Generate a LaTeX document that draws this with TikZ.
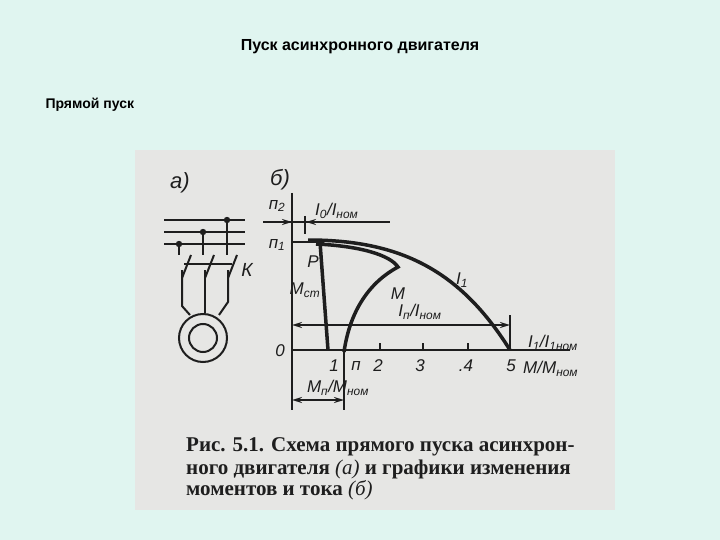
\documentclass[tikz,border=0pt]{standalone}
\usepackage{fontspec}
\setmainfont{Liberation Sans}
\newfontfamily\capfont{Liberation Serif}
\usetikzlibrary{arrows.meta}
\definecolor{bg}{HTML}{E0F5F0}
\definecolor{scan}{HTML}{E6E6E4}
\definecolor{ink}{HTML}{1E1E1E}
\tikzset{
  lbl/.style={font=\itshape\fontsize{17}{17}\selectfont, text=ink, inner sep=0pt},
  wire/.style={draw=ink, line width=2pt},
  heavy/.style={draw=ink, line width=3.5pt},
  dimarr/.style={draw=ink, line width=1.8pt, {Stealth[length=10pt,width=6pt]}-{Stealth[length=10pt,width=6pt]}},
  captext/.style={font=\capfont\bfseries\fontsize{21}{21}\selectfont, text=ink, inner sep=0pt, anchor=west}
}
\begin{document}
\begin{tikzpicture}[x=1pt,y=-1pt]
\fill[bg] (0,0) rectangle (720,540);
\useasboundingbox (0,0) rectangle (720,540);
\node[font=\bfseries\fontsize{16}{16}\selectfont] (title) at (360,47) {Пуск асинхронного двигателя};
\node[font=\bfseries\fontsize{14}{14}\selectfont, anchor=west] (sub) at (42,105) {Прямой пуск};
\fill[scan] (135,150) rectangle (615,510);
% scheme a
\node[lbl, font=\itshape\fontsize{22}{22}\selectfont] (la) at (180,183) {а)};
\coordinate (l1a) at (164,220); \coordinate (l1b) at (245,220);
\coordinate (l2a) at (164,232); \coordinate (l2b) at (245,232);
\coordinate (l3a) at (164,244); \coordinate (l3b) at (245,244);
\draw[wire] (l1a) -- (l1b); \draw[wire] (l2a) -- (l2b); \draw[wire] (l3a) -- (l3b);
\foreach \x/\y in {227/220,203/232,179/244}{
  \fill[ink] (\x,\y) circle (3.2);
  \draw[wire] (\x,\y) -- (\x,255);
}
\foreach \x in {182,205,228}{
  \draw[wire] (\x+9,255) -- (\x,278);
}
\draw[ink, line width=1.2pt] (184,264) -- (232,264);
\node[lbl, font=\itshape\fontsize{19}{19}\selectfont] (K) at (247,270) {К};
\draw[wire] (182,270) -- (182,306) -- (190,315);
\draw[wire] (205,270) -- (205,313);
\draw[wire] (228,270) -- (228,302) -- (219,315);
\draw[wire] (203,338) circle (24);
\draw[wire] (203,338) circle (14);
% graph b
\node[lbl, font=\itshape\fontsize{22}{22}\selectfont] (lb) at (280,180) {б)};
\coordinate (O) at (292,350);
\draw[wire] (292,193) -- (292,410);
\draw[wire] (O) -- (570,350);
\foreach \x in {380,423,468}{\draw[wire] (\x,350) -- (\x,343);}
\draw[wire] (510,315) -- (510,350);
\draw[wire] (344,350) -- (344,410);
% n2 arrows
\draw[wire] (263,222) -- (390,222);
\draw[ink, line width=1.8pt, -{Stealth[length=10pt,width=6pt]}] (263,222) -- (292,222);
\draw[ink, line width=1.8pt, -{Stealth[length=10pt,width=6pt]}] (330,222) -- (306,222);
\draw[ink, line width=1.2pt] (305,216) -- (305,234);
% n1
\draw[wire] (292,242) -- (320,242);
% I1 curve
\draw[heavy] (308,240) .. controls (400,240) and (460,270) .. (510,350);
% M curve
\draw[heavy] (316,244) .. controls (360,246) and (390,255) .. (398,267)
  .. controls (370,282) and (350,310) .. (344,352);
% Mst
\draw[heavy] (320,242) -- (328,350);
\fill[ink] (321,243) circle (3.5);
% dims
\draw[dimarr] (292,325) -- (510,325);
\draw[dimarr] (292,400) -- (344,400);
% labels
\node[lbl] (n2) at (277,206) {п\textsubscript{2}};
\node[lbl] (n1) at (277,245) {п\textsubscript{1}};
\node[lbl, anchor=west] (I0) at (315,211) {I\textsubscript{0}/I\textsubscript{ном}};
\node[lbl] (P) at (313,262) {Р};
\node[lbl] (Mst) at (305,290) {М\textsubscript{ст}};
\node[lbl] (M) at (398,294) {М};
\node[lbl] (I1) at (462,280) {I\textsubscript{1}};
\node[lbl] (Ip) at (420,312) {I\textsubscript{п}/I\textsubscript{ном}};
\node[lbl] (I1n) at (553,343) {I\textsubscript{1}/I\textsubscript{1ном}};
\node[lbl] (zero) at (280,351) {0};
\node[lbl] (t1) at (334,366) {1};
\node[lbl] (tp) at (356,366) {п};
\node[lbl] (t2) at (378,366) {2};
\node[lbl] (t3) at (420,366) {3};
\node[lbl] (t4) at (466,366) {.4};
\node[lbl] (t5) at (511,366) {5};
\node[lbl, anchor=west] (MM) at (523,369) {М/М\textsubscript{ном}};
\node[lbl] (Mp) at (338,388) {М\textsubscript{п}/М\textsubscript{ном}};
% caption
\node[captext] (c1) at (186,447) {Рис. 5.1. Схема прямого пуска асинхрон-};
\node[captext] (c2) at (186,469) {ного двигателя \textmd{\itshape (а)} и графики изменения};
\node[captext] (c3) at (186,490) {моментов и тока \textmd{\itshape (б)}};
\end{tikzpicture}
\end{document}
